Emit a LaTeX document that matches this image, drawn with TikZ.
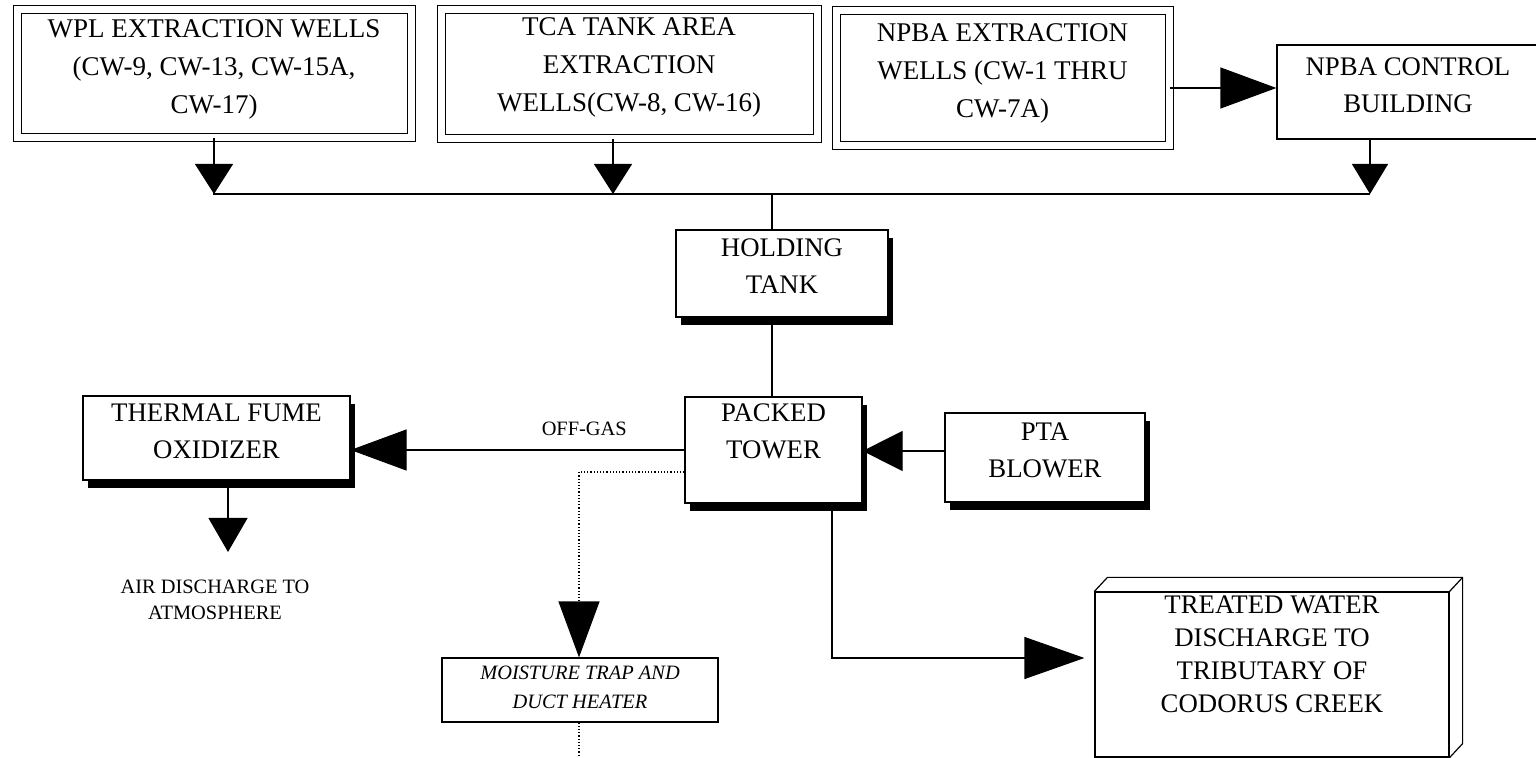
\documentclass[tikz,border=0pt]{standalone}
\usepackage{fontspec}
\setmainfont{Liberation Serif}
\usepackage{tikz}
\usetikzlibrary{arrows.meta, positioning, calc, shadows}
\newcommand{\lowstrut}[1]{\rule[-#1]{0pt}{0pt}}
\tikzstyle{wellbox}  = [rectangle, draw, double, double distance=3.5pt, line width=0.5pt,
                         align=center, inner sep=0pt, font=\fontsize{13.5}{19}\selectfont]
\tikzstyle{unit}     = [rectangle, draw, fill=white, line width=0.6pt, align=center, inner sep=0pt,
                         font=\fontsize{13.4}{18.5}\selectfont,
                         drop shadow={shadow xshift=2.5pt, shadow yshift=-4pt, fill=black, opacity=1}]
\tikzstyle{plainbox} = [rectangle, draw, fill=white, line width=0.6pt, align=center, inner sep=0pt,
                         font=\fontsize{13.4}{18.5}\selectfont]
\tikzstyle{note}     = [align=center, inner sep=1pt, font=\fontsize{10.2}{13}\selectfont]
\tikzstyle{arrow}    = [-{Triangle[length=15pt, width=19pt]}, line width=0.6pt]
\tikzstyle{longarrow}= [-{Triangle[length=28pt, width=20.5pt]}, line width=0.6pt]

\begin{document}
\begin{tikzpicture}[x=0.5pt, y=-0.5pt]
  \useasboundingbox (0,0) rectangle (1536,758);

  % extraction wells
  \node[wellbox, minimum width=197pt, minimum height=64pt] (wpl) at (214,73.5)
    {WPL EXTRACTION WELLS\\(CW-9, CW-13, CW-15A,\\CW-17)\lowstrut{7pt}};
  \node[wellbox, minimum width=188pt, minimum height=64.5pt] (tca) at (629,74)
    {TCA TANK AREA\\EXTRACTION\\WELLS(CW-8, CW-16)\lowstrut{9pt}};
  \node[wellbox, minimum width=166.5pt, minimum height=67.5pt] (npba) at (1002.5,78)
    {NPBA EXTRACTION\\WELLS (CW-1 THRU\\CW-7A)\lowstrut{7pt}};
  \node[plainbox, minimum width=131pt, minimum height=47pt] (ctl) at (1408,92)
    {NPBA CONTROL\\BUILDING\lowstrut{7pt}};

  % treatment
  \node[unit, minimum width=106pt, minimum height=43.5pt] (hold) at (782,273.5)
    {HOLDING\\TANK\lowstrut{7pt}};
  \node[unit, minimum width=88.5pt, minimum height=53pt] (tower) at (773.5,450)
    {PACKED\\TOWER\lowstrut{18.5pt}};
  \node[unit, minimum width=133.5pt, minimum height=42pt] (therm) at (216.5,438)
    {THERMAL FUME\\OXIDIZER\lowstrut{7pt}};
  \node[unit, minimum width=100pt, minimum height=44.5pt] (pta) at (1045,457.5)
    {PTA\\BLOWER\lowstrut{7pt}};
  \node[plainbox, minimum width=138pt, minimum height=32pt, font=\fontsize{10.2}{14.5}\selectfont\itshape]
    (moist) at (580,690) {MOISTURE TRAP AND\\DUCT HEATER\lowstrut{2.5pt}};
  \node[plainbox, minimum width=177pt, minimum height=82.5pt, font=\fontsize{13.4}{16.5}\selectfont]
    (treat) at (1272,674.5) {TREATED WATER\\DISCHARGE TO\\TRIBUTARY OF\\CODORUS CREEK\lowstrut{20pt}};
  \draw[line width=0.6pt] (treat.north west) -- ++(13,-14) -- ($(treat.north east)+(13,-14)$)
    -- ($(treat.south east)+(13,-14)$) -- (treat.south east);
  \draw[line width=0.6pt] (treat.north east) -- ++(13,-14);

  \node[note] (air) at (215,600) {AIR DISCHARGE TO\\ATMOSPHERE};

  % collection line
  \coordinate (busL) at (213,194);
  \coordinate (busR) at (1370,194);
  \coordinate (busM) at (772,194);
  \coordinate (tcaIn) at (613,194);
  \draw[line width=0.6pt] (busL) -- (busR);
  \draw[arrow] (wpl.south) -- (wpl.south |- busL);
  \draw[arrow] (tcaIn |- tca.south) -- (tcaIn);
  \draw[arrow, -{Triangle[length=15pt, width=18pt]}] (busR |- ctl.south) -- (busR);
  \draw[longarrow] (npba.east |- 0,88) -- (ctl.west |- 0,88);

  \draw[line width=0.6pt] (busM) -- (busM |- hold.north);
  \draw[line width=0.6pt] (busM |- hold.south) -- (busM |- tower.north);

  % packed tower connections
  \draw[longarrow] (tower.west) -- (tower.west -| therm.east)
    node[note, pos=0.3, above=6pt] (offgas) {OFF-GAS};
  \draw[arrow, -{Triangle[length=20pt, width=20pt]}] (pta.west |- 0,451) -- (tower.east |- 0,451);

  \coordinate (airIn) at (228,552);
  \draw[arrow, -{Triangle[length=17pt, width=19.5pt]}] (airIn |- therm.south) -- (airIn);

  \coordinate (dBend) at (579,472);
  \draw[longarrow, densely dotted] (tower.west |- dBend) -- (dBend) -- (dBend |- moist.north);
  \coordinate (moistOut) at (579,762);
  \draw[line width=0.6pt, densely dotted] (moist.south -| moistOut) -- (moistOut);

  \coordinate (tBend) at (832,658);
  \draw[longarrow, -{Triangle[length=30pt, width=21pt]}, shorten >=5pt]
    (tBend |- tower.south) -- (tBend) -- (tBend -| treat.west);
\end{tikzpicture}
\end{document}
